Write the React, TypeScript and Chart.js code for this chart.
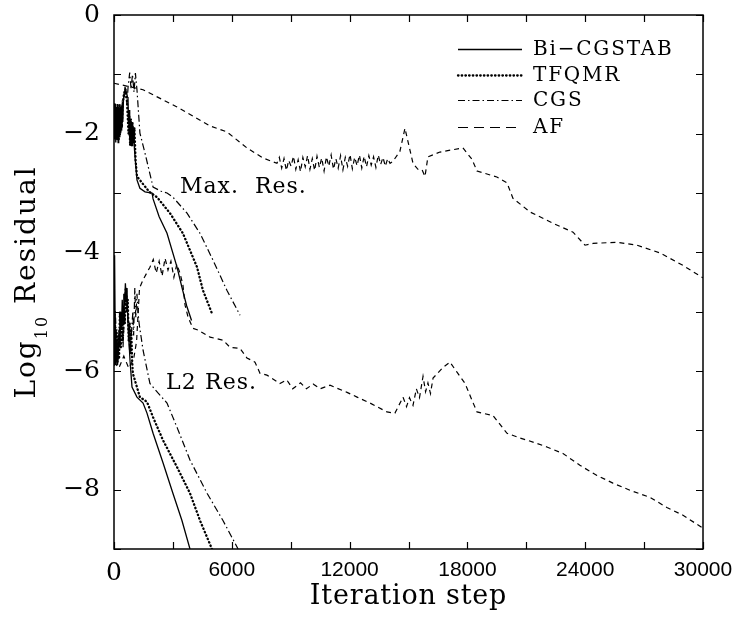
import React, { useEffect, useRef } from 'react';
import { Chart, registerables } from 'chart.js';

Chart.register(...registerables);

type P = [number, number];

// ---- labels ----
const xTickLabels = ['0', '6000', '12000', '18000', '24000', '30000'];
const yTickLabels = ['0', '−2', '−4', '−6', '−8'];
const seriesNames = ['Bi−CGSTAB', 'TFQMR', 'CGS', 'AF'];
const xTitle = 'Iteration step';

// ---- data: [iteration, log10 residual] ----
const bicgstabMax: P[] = [
  [0, -1.6], [30, -2.1], [60, -1.5], [90, -2.15], [120, -1.55], [150, -2.1], [180, -1.5],
  [210, -2.15], [240, -1.55], [270, -2.05], [300, -1.6], [330, -2.0], [360, -1.55],
  [390, -1.95], [420, -1.5], [450, -1.8], [480, -1.45], [520, -1.3], [560, -1.21], [600, -1.28],
  [640, -1.3], [680, -1.38], [713, -1.4], [740, -1.8], [770, -1.6], [800, -2.1], [830, -1.75],
  [860, -2.15], [890, -1.8], [920, -2.2], [950, -1.85], [980, -2.15], [1010, -1.9], [1040, -2.25],
  [1070, -2.39], [1170, -2.78], [1320, -2.92], [1580, -2.98], [1940, -3.0], [1990, -3.1],
  [2300, -3.4], [2700, -3.68], [3210, -4.25], [3460, -4.59], [3700, -4.9], [3950, -5.15],
];
const tfqmrMax: P[] = [
  [0, -1.7], [40, -1.5], [80, -2.05], [120, -1.6], [160, -2.1], [200, -1.55], [240, -2.1],
  [280, -1.5], [320, -2.0], [360, -1.55], [400, -1.9], [440, -1.5], [500, -1.35], [580, -1.25],
  [660, -1.45], [740, -2.0], [780, -1.7], [820, -2.2], [860, -1.75], [900, -2.2], [940, -1.8],
  [980, -2.15], [1040, -1.9], [1100, -2.45], [1170, -2.72], [1480, -2.85], [1800, -2.98],
  [2190, -3.07], [2850, -3.34], [3510, -3.68], [4230, -4.25], [4530, -4.64], [4990, -5.03],
];
const cgsMax: P[] = [
  [0, -1.55], [50, -2.0], [100, -1.6], [150, -2.1], [200, -1.5], [250, -1.95], [300, -1.5],
  [350, -1.85], [420, -1.45], [500, -1.4], [580, -1.3], [660, -1.5], [720, -1.2], [800, -0.97],
  [870, -1.25], [940, -1.0], [1020, -1.3], [1090, -0.98], [1170, -1.26], [1320, -1.99],
  [1580, -2.33], [1990, -2.9], [2400, -2.97], [2700, -3.0], [3000, -3.07], [3720, -3.34],
  [4380, -3.68], [5040, -4.13], [5750, -4.64], [6420, -5.06],
];
const afMax: P[] = [
  [0, -1.15], [1480, -1.26], [3210, -1.55], [4890, -1.87], [5750, -1.97], [6770, -2.24],
  [7590, -2.41], [8300, -2.5], [8420, -2.4], [8540, -2.58], [8660, -2.42], [8780, -2.62],
  [8900, -2.45], [9020, -2.55], [9140, -2.38], [9260, -2.6], [9380, -2.44], [9500, -2.64],
  [9620, -2.4], [9740, -2.56], [9860, -2.37], [9980, -2.6], [10100, -2.42], [10220, -2.62],
  [10340, -2.38], [10460, -2.57], [10580, -2.41], [10700, -2.63], [10820, -2.39], [10940, -2.55],
  [11060, -2.36], [11180, -2.6], [11300, -2.42], [11420, -2.58], [11540, -2.37], [11660, -2.61],
  [11780, -2.4], [11900, -2.55], [12020, -2.35], [12140, -2.59], [12260, -2.4], [12380, -2.54],
  [12500, -2.36], [12620, -2.58], [12740, -2.38], [12860, -2.56], [12980, -2.37], [13100, -2.53],
  [13220, -2.39], [13340, -2.57], [13460, -2.36], [13580, -2.52], [13700, -2.4], [13820, -2.55],
  [13940, -2.42], [14060, -2.5], [14200, -2.47], [14560, -2.3], [14820, -1.91], [15020, -2.2],
  [15230, -2.5], [15480, -2.6], [15690, -2.61], [15840, -2.72], [15990, -2.39], [16600, -2.31],
  [17770, -2.24], [18230, -2.43], [18490, -2.63], [19500, -2.73], [20020, -2.83], [20320, -3.09],
  [21190, -3.32], [22360, -3.51], [23380, -3.66], [23990, -3.88], [24400, -3.85], [25620, -3.83],
  [26640, -3.88], [27810, -4.01], [28980, -4.22], [30000, -4.43],
];

const bicgstabL2: P[] = [
  [0, -5.9], [30, -4.05], [60, -5.3], [100, -5.9], [140, -5.5], [180, -5.9], [220, -5.7],
  [260, -5.3], [300, -5.6], [340, -5.0], [380, -5.3], [420, -4.8], [460, -5.2], [500, -4.7],
  [540, -4.9], [580, -4.52], [620, -4.8], [660, -4.6], [700, -5.1], [740, -5.4], [780, -5.6],
  [815, -5.82], [917, -6.27], [1170, -6.44], [1480, -6.54], [1680, -6.71], [1990, -7.05],
  [2500, -7.55], [3000, -8.06], [3460, -8.52], [3870, -9.0],
];
const tfqmrL2: P[] = [
  [0, -5.7], [40, -5.0], [80, -5.8], [130, -5.3], [180, -5.85], [220, -5.4], [260, -5.8],
  [300, -5.0], [350, -5.6], [400, -5.1], [450, -5.5], [500, -4.9], [550, -5.2], [600, -4.6],
  [650, -5.0], [700, -4.8], [750, -5.5], [800, -5.2], [840, -5.7], [880, -5.3], [920, -5.8],
  [960, -6.04], [1320, -6.44], [1680, -6.52], [1990, -6.78], [2500, -7.17], [3210, -7.62],
  [3870, -8.06], [4380, -8.52], [4990, -9.0],
];
const cgsL2: P[] = [
  [0, -5.6], [80, -5.1], [160, -5.85], [260, -5.4], [360, -5.0], [460, -5.6], [560, -4.8],
  [640, -4.6], [720, -5.2], [800, -5.7], [880, -5.4], [960, -5.0], [1000, -5.4], [1060, -4.6],
  [1110, -5.1], [1170, -4.7], [1220, -5.0], [1280, -5.2], [1480, -5.65], [1830, -6.21],
  [2240, -6.37], [2700, -6.54], [3210, -6.95], [3870, -7.5], [4740, -8.06], [5550, -8.52],
  [6320, -9.0],
];
const afL2: P[] = [
  [0, -5.85], [250, -5.95], [500, -5.75], [750, -5.95], [1000, -5.8], [1150, -5.5], [1300, -4.6],
  [1500, -4.45], [1830, -4.25], [2000, -4.12], [2150, -4.35], [2300, -4.15], [2450, -4.4],
  [2600, -4.1], [2750, -4.3], [2900, -4.15], [3050, -4.42], [3200, -4.2], [3360, -4.35],
  [3510, -4.55], [3620, -4.89], [3770, -5.09], [4020, -5.28], [4280, -5.31], [4890, -5.43],
  [5550, -5.48], [5910, -5.6], [6420, -5.62], [6770, -5.78], [7180, -5.85], [7440, -6.04],
  [7790, -6.07], [8450, -6.21], [8800, -6.15], [9100, -6.3], [9500, -6.2], [9800, -6.3],
  [10140, -6.22], [10500, -6.3], [11000, -6.24], [11870, -6.36], [12380, -6.44], [13040, -6.54],
  [13900, -6.69], [14310, -6.71], [14720, -6.44], [14900, -6.6], [15050, -6.45], [15230, -6.58],
  [15400, -6.3], [15560, -6.45], [15740, -6.09], [15870, -6.35], [15990, -6.2], [16120, -6.38],
  [16250, -6.12], [16760, -5.94], [17110, -5.85], [17470, -6.02], [17880, -6.21], [18230, -6.49],
  [18490, -6.69], [19300, -6.75], [20020, -7.05], [20680, -7.13], [21090, -7.17], [22050, -7.28],
  [22870, -7.39], [23730, -7.59], [24600, -7.76], [25410, -7.89], [26280, -8.01], [27300, -8.13],
  [28160, -8.3], [28980, -8.43], [30000, -8.65],
];

// annotation anchors in data units
const maxLabel = { x: 3360, y: -3.0 };
const maxResX = 7180;
const l2Label = { x: 2650, y: -6.3 };
const l2ResX = 4640;

// ---- styles ----
const styles = [
  { dash: [] as number[], width: 1.3, cap: 'butt', legendDash: [] as number[] },
  { dash: [0.5, 3.2], width: 2.3, cap: 'round', legendDash: [0.5, 3.2] },
  { dash: [7, 3, 1.5, 3], width: 1.2, cap: 'butt', legendDash: [7, 3, 1.5, 3] },
  { dash: [5, 4], width: 1.2, cap: 'butt', legendDash: [10, 6] },
];

const toPts = (a: P[]) => a.map(([x, y]) => ({ x, y }));

const SERIF = '"DejaVu Serif", serif';
const SANS = '"Liberation Sans", Arial, sans-serif';

const framePlugin = {
  id: 'framePlugin',
  afterDraw(chart: any) {
    const { ctx, chartArea: a, scales } = chart;
    const xs = scales.x;
    const ys = scales.y;
    ctx.save();
    ctx.strokeStyle = '#000';
    ctx.lineWidth = 1.5;
    ctx.setLineDash([]);
    ctx.strokeRect(a.left, a.top, a.right - a.left, a.bottom - a.top);
    ctx.lineWidth = 1.2;
    ctx.beginPath();
    for (const t of xs.ticks) {
      const px = Math.round(xs.getPixelForValue(t.value)) + 0.5;
      ctx.moveTo(px, a.bottom); ctx.lineTo(px, a.bottom - 7);
      ctx.moveTo(px, a.top); ctx.lineTo(px, a.top + 7);
    }
    for (const t of ys.ticks) {
      const py = Math.round(ys.getPixelForValue(t.value)) + 0.5;
      ctx.moveTo(a.left, py); ctx.lineTo(a.left + 7, py);
      ctx.moveTo(a.right, py); ctx.lineTo(a.right - 7, py);
    }
    ctx.stroke();

    // annotations
    ctx.fillStyle = '#000';
    ctx.font = `22px ${SERIF}`;
    (ctx as any).letterSpacing = '1px';
    ctx.textBaseline = 'alphabetic';
    ctx.textAlign = 'left';
    const my = ys.getPixelForValue(maxLabel.y);
    ctx.fillText('Max.', xs.getPixelForValue(maxLabel.x), my);
    ctx.fillText('Res.', xs.getPixelForValue(maxResX), my);
    const ly = ys.getPixelForValue(l2Label.y);
    ctx.fillText('L2', xs.getPixelForValue(l2Label.x), ly);
    ctx.fillText('Res.', xs.getPixelForValue(l2ResX), ly);

    // legend
    const rowsY = [49, 75, 100, 127];
    const lx0 = a.right - 245;
    const lx1 = a.right - 181;
    const tx = a.right - 170;
    ctx.font = `20px ${SERIF}`;
    (ctx as any).letterSpacing = '1.8px';
    ctx.textBaseline = 'middle';
    seriesNames.forEach((name, i) => {
      const st = styles[i];
      const yy = a.top + rowsY[i] - 15;
      ctx.save();
      ctx.lineWidth = st.width;
      ctx.lineCap = st.cap as CanvasLineCap;
      ctx.setLineDash(st.legendDash);
      ctx.beginPath();
      ctx.moveTo(lx0, yy + 0.5);
      ctx.lineTo(lx1, yy + 0.5);
      ctx.stroke();
      ctx.restore();
      ctx.fillText(name, tx, yy + 1);
    });

    // axis titles
    ctx.textBaseline = 'alphabetic';
    ctx.textAlign = 'center';
    ctx.font = `27px ${SERIF}`;
    (ctx as any).letterSpacing = '0.8px';
    ctx.fillText(xTitle, (a.left + a.right) / 2, 604);

    // y title: Log_10 Residual, rotated
    ctx.textAlign = 'left';
    (ctx as any).letterSpacing = '2px';
    const mainFont = `28px ${SERIF}`;
    const subFont = `16px ${SERIF}`;
    ctx.font = mainFont;
    const wLog = ctx.measureText('Log').width;
    const wRes = ctx.measureText(' Residual').width;
    ctx.font = subFont;
    const wSub = ctx.measureText('10').width;
    const total = wLog + wSub + wRes;
    const cy = (a.top + a.bottom) / 2;
    ctx.translate(0, cy);
    ctx.rotate(-Math.PI / 2);
    let sx = -total / 2;
    ctx.font = mainFont;
    ctx.fillText('Log', sx, 35);
    sx += wLog;
    ctx.font = subFont;
    ctx.fillText('10', sx, 47);
    sx += wSub;
    ctx.font = mainFont;
    ctx.fillText(' Residual', sx, 35);
    ctx.restore();
  },
};

export default function App() {
  const ref = useRef<HTMLCanvasElement | null>(null);
  useEffect(() => {
    if (!ref.current) return;
    const groups: P[][][] = [
      [bicgstabMax, bicgstabL2],
      [tfqmrMax, tfqmrL2],
      [cgsMax, cgsL2],
      [afMax, afL2],
    ];
    const datasets: any[] = [];
    groups.forEach((g, i) => {
      g.forEach((arr, j) => {
        datasets.push({
          label: j === 0 ? seriesNames[i] : seriesNames[i] + ' (L2)',
          data: toPts(arr),
          borderColor: '#000',
          borderWidth: styles[i].width,
          borderDash: styles[i].dash,
          borderCapStyle: styles[i].cap,
          pointRadius: 0,
          tension: 0,
          fill: false,
        });
      });
    });
    const chart = new Chart(ref.current, {
      type: 'line',
      data: { datasets },
      options: {
        responsive: false,
        animation: false,
        layout: { padding: { top: 15, right: 33, left: 0, bottom: 0 } },
        plugins: { legend: { display: false }, tooltip: { enabled: false }, title: { display: false } },
        scales: {
          x: {
            type: 'linear',
            min: 0,
            max: 30000,
            grid: { display: false, drawTicks: true, tickLength: 9 },
            border: { display: false },
            ticks: {
              stepSize: 3000,
              autoSkip: false,
              maxRotation: 0,
              color: '#000',
              padding: 0,
              font: (c: any) =>
                c.tick && c.tick.value === 0 ? { family: SERIF, size: 25 } : { family: SANS, size: 21 },
              callback: (v: any) => (Number(v) % 6000 === 0 ? xTickLabels[Math.round(Number(v) / 6000)] : ''),
            },
            afterFit: (s: any) => { s.height = 82; },
          },
          y: {
            type: 'linear',
            min: -9,
            max: 0,
            grid: { display: false, drawTicks: true, tickLength: 14 },
            border: { display: false },
            ticks: {
              stepSize: 1,
              autoSkip: false,
              color: '#000',
              padding: 0,
              font: { family: SERIF, size: 25 },
              callback: (v: any) => {
                const n = Math.round(Number(v));
                return n % 2 === 0 ? yTickLabels[-n / 2] : '';
              },
            },
            afterFit: (s: any) => { s.width = 114; },
          },
        },
      },
      plugins: [framePlugin],
    });
    return () => chart.destroy();
  }, []);
  return (
    <div style={{ position: 'absolute', left: 0, top: 0, width: 736, height: 631, background: '#fff' }}>
      <canvas ref={ref} width={736} height={631} style={{ display: 'block' }} />
    </div>
  );
}
